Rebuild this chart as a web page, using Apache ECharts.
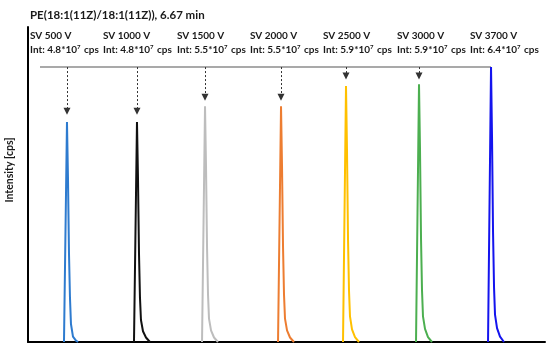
<!DOCTYPE html>
<html>
<head>
<meta charset="utf-8">
<script src="https://cdn.jsdelivr.net/npm/echarts@6/dist/echarts.min.js"></script>
<style>html,body{margin:0;padding:0;background:#fff}#c{width:550px;height:352px}</style>
</head>
<body>
<div id="c"></div>
<script>
// ---- data (x: arbitrary run position, y: intensity in 1e7 cps) ----
const chartTitle = "PE(18:1(11Z)/18:1(11Z)), 6.67 min";
const yAxisName = "Intensity [cps]";
const voltages = ["SV 500 V", "SV 1000 V", "SV 1500 V", "SV 2000 V", "SV 2500 V", "SV 3000 V", "SV 3700 V"];
const intensities = ["4.8", "4.8", "5.5", "5.5", "5.9", "5.9", "6.4"];
const colors = ["#2E7BCF", "#111111", "#BDBDBD", "#ED7D31", "#FFC000", "#4CAF50", "#1414EE"];

const peak500 = [[6.96,0],[7.25,2.45],[7.54,4.89],[7.73,3.67],[7.93,1.96],[8.12,0.98],[8.31,0.40],[8.70,0.12],[9.28,0.03],[9.70,0]];
const peak1000 = [[20.50,0],[20.79,2.45],[21.08,4.89],[21.27,3.67],[21.47,1.96],[21.66,0.98],[21.85,0.49],[22.24,0.24],[22.82,0.10],[23.59,0]];
const peak1500 = [[33.66,0],[33.95,2.62],[34.24,5.24],[34.43,3.93],[34.63,2.10],[34.82,1.05],[35.01,0.52],[35.40,0.26],[35.98,0.10],[36.75,0]];
const peak2000 = [[48.36,0],[48.65,2.62],[48.94,5.24],[49.13,3.93],[49.33,2.10],[49.52,1.05],[49.71,0.52],[50.10,0.26],[50.68,0.10],[51.45,0]];
const peak2500 = [[60.93,0],[61.22,2.85],[61.51,5.69],[61.70,4.27],[61.90,2.28],[62.09,1.14],[62.28,0.57],[62.67,0.28],[63.25,0.11],[64.02,0]];
const peak3000 = [[75.05,0],[75.34,2.87],[75.63,5.73],[75.82,4.30],[76.02,2.29],[76.21,1.15],[76.40,0.57],[76.79,0.29],[77.37,0.11],[78.14,0]];
const peak3700 = [[88.98,0],[89.27,3.06],[89.56,6.11],[89.75,4.58],[89.95,2.44],[90.14,1.22],[90.33,0.61],[90.72,0.31],[91.30,0.12],[92.07,0]];
const peaks = [peak500, peak1000, peak1500, peak2000, peak2500, peak3000, peak3700];

// reference line and arrows (x position, arrow tip intensity)
const refLineLevel = 6.11;
const refLineStart = 2.32;
const arrowX = [7.54, 21.08, 34.24, 48.94, 61.51, 75.63];
const arrowTip = [5.13, 5.13, 5.44, 5.44, 5.91, 5.91];

// label columns (left pixel of each label block)
const labelLeft = [30, 103, 177, 250, 323, 397, 470];

const FONT = "Lato, 'Open Sans', sans-serif";
const chart = echarts.init(document.getElementById('c'), null, {renderer: 'canvas'});

const series = peaks.map((p, i) => ({
  type: 'line', data: p, showSymbol: false, smooth: false,
  lineStyle: {color: colors[i], width: 2}, z: 3, silent: true
}));

series.push({
  type: 'line',
  data: [[refLineStart, refLineLevel], [peak3700[2][0], refLineLevel]],
  showSymbol: false, silent: true,
  lineStyle: {color: '#8C8C8C', width: 1.5}, z: 2,
  markLine: {
    silent: true, animation: false,
    symbol: ['none', 'triangle'], symbolSize: [7, 7],
    label: {show: false},
    lineStyle: {color: '#333', type: [2, 2], width: 1},
    data: arrowX.map((x, i) => [{coord: [x, refLineLevel]}, {coord: [x, arrowTip[i]]}])
  }
});

const graphics = [];
voltages.forEach((v, i) => {
  graphics.push({
    type: 'text', left: labelLeft[i], top: 31,
    style: {text: v, font: "bold 10px " + FONT, fill: '#1a1a1a'}
  });
  graphics.push({
    type: 'text', left: labelLeft[i], top: 44,
    style: {
      text: '{a|Int: ' + intensities[i] + '*10}{s|7}{a| cps}',
      rich: {
        a: {font: "bold 10px " + FONT, fill: '#1a1a1a', verticalAlign: 'bottom'},
        s: {font: "bold 6px " + FONT, fill: '#1a1a1a', verticalAlign: 'top', padding: [0, 1, 5, 0]}
      }
    }
  });
});
graphics.push({
  type: 'text', x: 10, y: 170, rotation: Math.PI / 2,
  style: {text: yAxisName, font: "bold 10.5px " + FONT, fill: '#1a1a1a', align: 'center', verticalAlign: 'middle'}
});

chart.setOption({
  animation: false,
  backgroundColor: '#fff',
  title: {
    text: chartTitle, left: 25, top: 4,
    textStyle: {fontFamily: FONT, fontWeight: 'bold', fontSize: 11.5, color: '#1a1a1a'}
  },
  grid: {left: 28, right: 5, top: 27, bottom: 10, containLabel: false},
  xAxis: {
    type: 'value', min: 0, max: 100,
    axisLine: {show: true, onZero: false, lineStyle: {color: '#000', width: 2}},
    axisTick: {show: false}, axisLabel: {show: false}, splitLine: {show: false}
  },
  yAxis: {
    type: 'value', min: 0, max: 7,
    axisLine: {show: true, lineStyle: {color: '#000', width: 2}},
    axisTick: {show: false}, axisLabel: {show: false}, splitLine: {show: false}
  },
  graphic: graphics,
  series: series
});
</script>
</body>
</html>
